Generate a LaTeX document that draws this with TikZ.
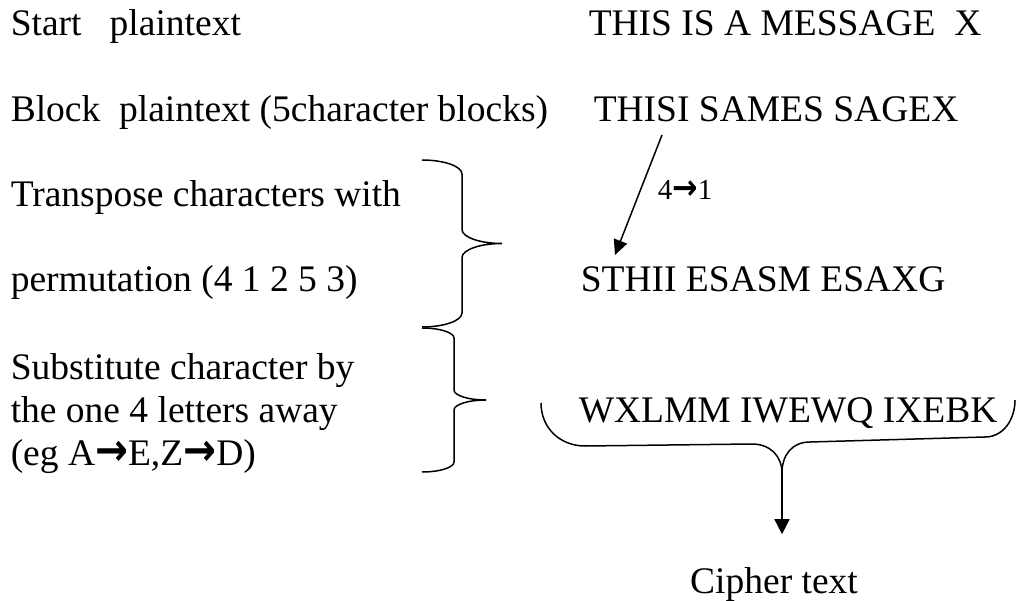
\documentclass[tikz,border=0pt]{standalone}
\usepackage{fontspec}
\setmainfont{Liberation Serif}
\newfontfamily\arrowfont{DejaVu Sans}
\usetikzlibrary{arrows.meta,positioning,calc}
\newcommand{\fatarrow}{{\arrowfont\bfseries\scalebox{1.05}[1.2]{→}}}
% right brace: x, top, bottom, amplitude, curl
\newcommand{\sidebrace}[5]{%
	\pgfmathsetmacro\bmid{(#2+#3)/2}%
	\pgfmathsetmacro\bhalf{#1+#4/2}%
	\pgfmathsetmacro\btip{#1+#4}%
	\pgfmathsetmacro\bw{0.55*#4/2}%
	\pgfmathsetmacro\bh{0.55*#5}%
	\draw (#1,#2) .. controls (#1+\bw,#2) and (\bhalf,#2+#5-\bh) .. (\bhalf,#2+#5)
		-- (\bhalf,\bmid-#5) .. controls (\bhalf,\bmid-#5+\bh) and (\btip-\bw,\bmid) .. (\btip,\bmid)
		.. controls (\btip-\bw,\bmid) and (\bhalf,\bmid+#5-\bh) .. (\bhalf,\bmid+#5)
		-- (\bhalf,#3-#5) .. controls (\bhalf,#3-#5+\bh) and (#1+\bw,#3) .. (#1,#3);}

\begin{document}
\begin{tikzpicture}[x=1pt,y=-1pt,>={Triangle[length=15pt,width=14pt]},line width=1.5pt,
	stage/.style={anchor=base west, inner sep=0pt, font=\fontsize{37.5}{43}\selectfont},
	small stage/.style={anchor=base west, inner sep=0pt, font=\fontsize{29}{33}\selectfont}]
				\useasboundingbox (0,0) rectangle (1020,601);
				
				\node[stage] (start) at (10,36) {Start~~~plaintext};
				\node[stage] (block) at (10,122) {Block~~plaintext (5character blocks)};
				\node[stage] (transA) at (10,207) {Transpose characters with};
				\node[stage] (transB) at (10,292) {permutation (4 1 2 5 3)};
				\node[stage] (subA) at (10,380) {Substitute character by};
				\node[stage] (subB) at (10,422) {the one 4 letters away};
				\node[stage] (subC) at (10,465) {(eg A\fatarrow E,Z\fatarrow D)};
				
				\node[stage] (msg) at (588,36) {THIS IS A MESSAGE~~X};
				\node[stage] (blockmsg) at (593,122) {THISI SAMES SAGEX};
				\node[small stage] (swap) at (657,200) {4\fatarrow 1};
				\node[stage] (permmsg) at (580,292) {STHII ESASM ESAXG};
				\node[stage] (submsg) at (578,422) {WXLMM IWEWQ IXEBK};
				\node[stage, anchor=base] (cipher) at (774,593) {Cipher text};
				
				% braces
				\sidebrace{422}{160}{327}{80}{14}
				\sidebrace{422}{328}{472}{64}{10}
				\coordinate (b3tip) at (782,473);
				\draw (541,403) .. controls (541,428) and (560,446) .. (585,446) -- (752,444)
					.. controls (770,444) and (782,456) .. (b3tip)
					.. controls (782,455) and (792,442) .. (810,442) -- (985,437)
					.. controls (1003,437) and (1015,420) .. (1015,400);
				
				% arrows
				\coordinate (sfour) at (662,135);
				\coordinate (sone) at (615,255);
				\draw[->] (sfour) -- (sone);
				\draw[->,>={Triangle[length=15pt,width=15pt]}] (b3tip) -- ([yshift=32pt]b3tip |- cipher.north);
				
\end{tikzpicture}
\end{document}
